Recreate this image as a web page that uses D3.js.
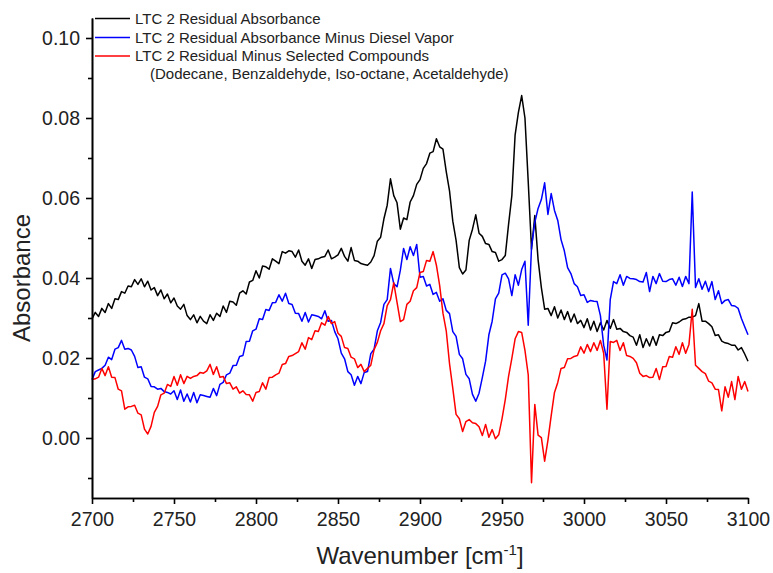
<!DOCTYPE html>
<html>
<head>
<meta charset="utf-8">
<script src="https://cdn.jsdelivr.net/npm/d3@7/dist/d3.min.js"></script>
<style>
  html, body { margin: 0; padding: 0; background: #fff; }
  svg { display: block; font-family: "Liberation Sans", Arial, sans-serif; }
</style>
</head>
<body>
<svg id="chart" width="773" height="573"></svg>
<script>
// Wavenumber grid (cm^-1), 2 cm^-1 spacing
const wavenumbers = d3.range(2700, 3101, 2);

// LTC 2 residual absorbance
const residual = [
  .0298,.0314,.0304,.0324,.0314,.0336,.0324,.0348,.0346,.0366,
  .0362,.0380,.0378,.0396,.0384,.0398,.0378,.0392,.0370,.0376,
  .0356,.0370,.0348,.0360,.0338,.0350,.0330,.0322,.0334,.0306,
  .0296,.0308,.0288,.0304,.0292,.0286,.0308,.0294,.0312,.0304,
  .0330,.0314,.0342,.0340,.0332,.0362,.0368,.0360,.0390,.0394,
  .0418,.0400,.0430,.0428,.0422,.0448,.0442,.0436,.0466,.0462,
  .0468,.0466,.0452,.0470,.0442,.0432,.0448,.0424,.0446,.0448,
  .0452,.0454,.0470,.0448,.0452,.0458,.0474,.0454,.0442,.0476,
  .0444,.0442,.0436,.0434,.0432,.0440,.0456,.0492,.0502,.0548,
  .0582,.0648,.0606,.0588,.0522,.0550,.0546,.0590,.0606,.0634,
  .0646,.0674,.0686,.0712,.0716,.0748,.0728,.0722,.0666,.0618,
  .0542,.0494,.0426,.0410,.0420,.0494,.0522,.0558,.0512,.0504,
  .0486,.0484,.0466,.0464,.0442,.0446,.0456,.0534,.0606,.0758,
  .0814,.0856,.0800,.0640,.0472,.0556,.0446,.0376,.0322,.0324,
  .0306,.0328,.0300,.0320,.0296,.0316,.0290,.0310,.0286,.0294,
  .0276,.0298,.0270,.0292,.0266,.0288,.0270,.0294,.0274,.0296,
  .0272,.0274,.0266,.0264,.0256,.0252,.0232,.0258,.0226,.0248,
  .0230,.0254,.0232,.0258,.0256,.0264,.0266,.0288,.0286,.0290,
  .0296,.0298,.0302,.0302,.0306,.0336,.0292,.0292,.0286,.0278,
  .0256,.0258,.0242,.0238,.0236,.0232,.0232,.0220,.0226,.0210,
  .0192
];

// Residual absorbance minus diesel vapor
const minusDiesel = [
  .0146,.0166,.0170,.0174,.0182,.0202,.0196,.0222,.0226,.0244,
  .0222,.0224,.0220,.0204,.0176,.0178,.0152,.0148,.0129,.0128,
  .0122,.0124,.0116,.0114,.0110,.0118,.0096,.0120,.0092,.0110,
  .0090,.0114,.0088,.0108,.0106,.0104,.0102,.0124,.0106,.0134,
  .0139,.0158,.0162,.0181,.0182,.0204,.0206,.0241,.0242,.0268,
  .0272,.0298,.0296,.0321,.0319,.0338,.0339,.0358,.0342,.0362,
  .0336,.0334,.0312,.0311,.0292,.0314,.0290,.0308,.0306,.0304,
  .0298,.0318,.0292,.0294,.0266,.0248,.0212,.0198,.0166,.0158,
  .0132,.0154,.0136,.0164,.0166,.0211,.0222,.0268,.0289,.0334,
  .0346,.0424,.0386,.0378,.0419,.0474,.0446,.0478,.0456,.0484,
  .0402,.0404,.0380,.0384,.0359,.0364,.0342,.0348,.0319,.0311,
  .0266,.0254,.0209,.0198,.0159,.0148,.0109,.0092,.0112,.0151,
  .0192,.0258,.0292,.0348,.0362,.0408,.0412,.0398,.0356,.0408,
  .0382,.0421,.0442,.0282,.0478,.0539,.0574,.0596,.0638,.0559,
  .0611,.0569,.0544,.0496,.0468,.0426,.0411,.0386,.0378,.0356,
  .0358,.0339,.0344,.0342,.0341,.0306,.0232,.0195,.0346,.0391,
  .0386,.0408,.0382,.0404,.0399,.0398,.0396,.0391,.0390,.0414,
  .0366,.0404,.0386,.0411,.0392,.0391,.0396,.0398,.0382,.0402,
  .0379,.0404,.0386,.0615,.0376,.0398,.0372,.0392,.0366,.0391,
  .0346,.0368,.0336,.0344,.0346,.0331,.0330,.0324,.0299,.0278,
  .0258
];

// Residual minus selected compounds
const minusCompounds = [
  .0146,.0148,.0152,.0174,.0156,.0178,.0152,.0151,.0122,.0118,
  .0072,.0078,.0079,.0082,.0062,.0058,.0022,.0010,.0029,.0064,
  .0079,.0108,.0112,.0134,.0129,.0154,.0132,.0158,.0136,.0154,
  .0149,.0154,.0156,.0164,.0162,.0168,.0184,.0159,.0178,.0152,
  .0154,.0136,.0138,.0122,.0128,.0112,.0118,.0109,.0108,.0092,
  .0114,.0116,.0138,.0122,.0151,.0152,.0158,.0162,.0184,.0186,
  .0204,.0206,.0211,.0216,.0238,.0222,.0251,.0246,.0268,.0266,
  .0288,.0282,.0304,.0286,.0291,.0262,.0254,.0226,.0224,.0202,
  .0198,.0176,.0184,.0166,.0174,.0182,.0221,.0239,.0268,.0286,
  .0331,.0346,.0388,.0339,.0291,.0296,.0334,.0342,.0368,.0376,
  .0414,.0416,.0444,.0442,.0466,.0432,.0381,.0312,.0268,.0186,
  .0124,.0059,.0048,.0016,.0041,.0046,.0038,.0036,.0028,.0006,
  .0034,.0002,.0021,-.0002,.0008,.0048,.0096,.0154,.0199,.0248,
  .0266,.0264,.0219,.0158,-.0112,.0084,.0007,.0001,-.0058,-.0006,
  .0056,.0114,.0139,.0174,.0176,.0198,.0199,.0204,.0206,.0228,
  .0212,.0234,.0216,.0238,.0219,.0244,.0212,.0072,.0241,.0239,
  .0244,.0219,.0238,.0206,.0204,.0199,.0188,.0162,.0154,.0156,
  .0151,.0152,.0174,.0146,.0178,.0179,.0204,.0202,.0228,.0209,
  .0238,.0212,.0234,.0322,.0182,.0174,.0166,.0161,.0142,.0138,
  .0122,.0121,.0068,.0128,.0102,.0141,.0096,.0154,.0122,.0141,
  .0116
];

const seriesNames = [
  "LTC 2 Residual Absorbance",
  "LTC 2 Residual Absorbance Minus Diesel Vapor",
  "LTC 2 Residual Minus Selected Compounds"
];
const seriesColors = ["#000000", "#0000ff", "#ff0000"];
const legendNote = "(Dodecane, Benzaldehyde, Iso-octane, Acetaldehyde)";

const xMajorTicks = d3.range(2700, 3101, 50);
const xMinorTicks = d3.range(2725, 3100, 50);
const yMajorTicks = [0.00, 0.02, 0.04, 0.06, 0.08, 0.10];
const yMinorTicks = [-0.01, 0.01, 0.03, 0.05, 0.07, 0.09];

const svg = d3.select("#chart");
const margin = { left: 92, right: 25, top: 18, bottom: 75 };
const W = 773, H = 573;

const x = d3.scaleLinear().domain([2700, 3100]).range([margin.left, W - margin.right]);
const y = d3.scaleLinear().domain([-0.015, 0.105]).range([H - margin.bottom, margin.top]);

// Spectra
const line = d3.line()
  .x(d => x(d[0]))
  .y(d => y(d[1]));

const allSeries = [residual, minusDiesel, minusCompounds];
const plot = svg.append("g");
allSeries.forEach((vals, i) => {
  plot.append("path")
    .datum(wavenumbers.map((w, j) => [w, vals[j]]))
    .attr("fill", "none")
    .attr("stroke", seriesColors[i])
    .attr("stroke-width", 1.5)
    .attr("stroke-linejoin", "round")
    .attr("d", line);
});

// Axes
const axisW = 1.6;
const xAxisMinor = svg.append("g")
  .attr("transform", `translate(0,${H - margin.bottom})`)
  .call(d3.axisBottom(x).tickValues(xMinorTicks).tickSize(4).tickSizeOuter(0).tickFormat(""));
const xAxis = svg.append("g")
  .attr("transform", `translate(0,${H - margin.bottom})`)
  .call(d3.axisBottom(x).tickValues(xMajorTicks).tickSize(6).tickSizeOuter(0).tickPadding(8).tickFormat(d3.format("d")));

const yAxisMinor = svg.append("g")
  .attr("transform", `translate(${margin.left},0)`)
  .call(d3.axisLeft(y).tickValues(yMinorTicks).tickSize(4).tickSizeOuter(0).tickFormat(""));
const yAxis = svg.append("g")
  .attr("transform", `translate(${margin.left},0)`)
  .call(d3.axisLeft(y).tickValues(yMajorTicks).tickSize(6).tickSizeOuter(0).tickPadding(6).tickFormat(d3.format(".2f")));

[xAxisMinor, xAxis, yAxisMinor, yAxis].forEach(g => {
  g.selectAll("path.domain").attr("stroke", "#000").attr("stroke-width", axisW);
  g.selectAll(".tick line").attr("stroke", "#000").attr("stroke-width", axisW);
  g.selectAll(".tick text")
    .attr("fill", "#222")
    .style("font-family", "'Liberation Sans', Arial, sans-serif")
    .style("font-size", "19.5px");
});

// Axis titles
svg.append("text")
  .attr("x", (x.range()[0] + x.range()[1]) / 2)
  .attr("y", 564)
  .attr("text-anchor", "middle")
  .attr("fill", "#222")
  .style("font-size", "24px")
  .html('Wavenumber [cm<tspan dy="-9" font-size="15px">-1</tspan><tspan dy="9">]</tspan>');

svg.append("text")
  .attr("transform", `translate(30,${(y.range()[0] + y.range()[1]) / 2 + 20}) rotate(-90)`)
  .attr("text-anchor", "middle")
  .attr("fill", "#222")
  .style("font-size", "24px")
  .text("Absorbance");

// Legend
const legend = svg.append("g");
const legendY = [18.5, 37.5, 56];
seriesNames.forEach((name, i) => {
  legend.append("line")
    .attr("x1", 95).attr("x2", 130)
    .attr("y1", legendY[i]).attr("y2", legendY[i])
    .attr("stroke", seriesColors[i]).attr("stroke-width", 1.6);
  legend.append("text")
    .attr("x", 135).attr("y", legendY[i])
    .attr("dy", "0.35em")
    .attr("fill", "#222")
    .style("font-size", "15px")
    .text(name);
});
legend.append("text")
  .attr("x", 150).attr("y", 74)
  .attr("dy", "0.35em")
  .attr("fill", "#222")
  .style("font-size", "15px")
  .text(legendNote);
</script>
</body>
</html>
